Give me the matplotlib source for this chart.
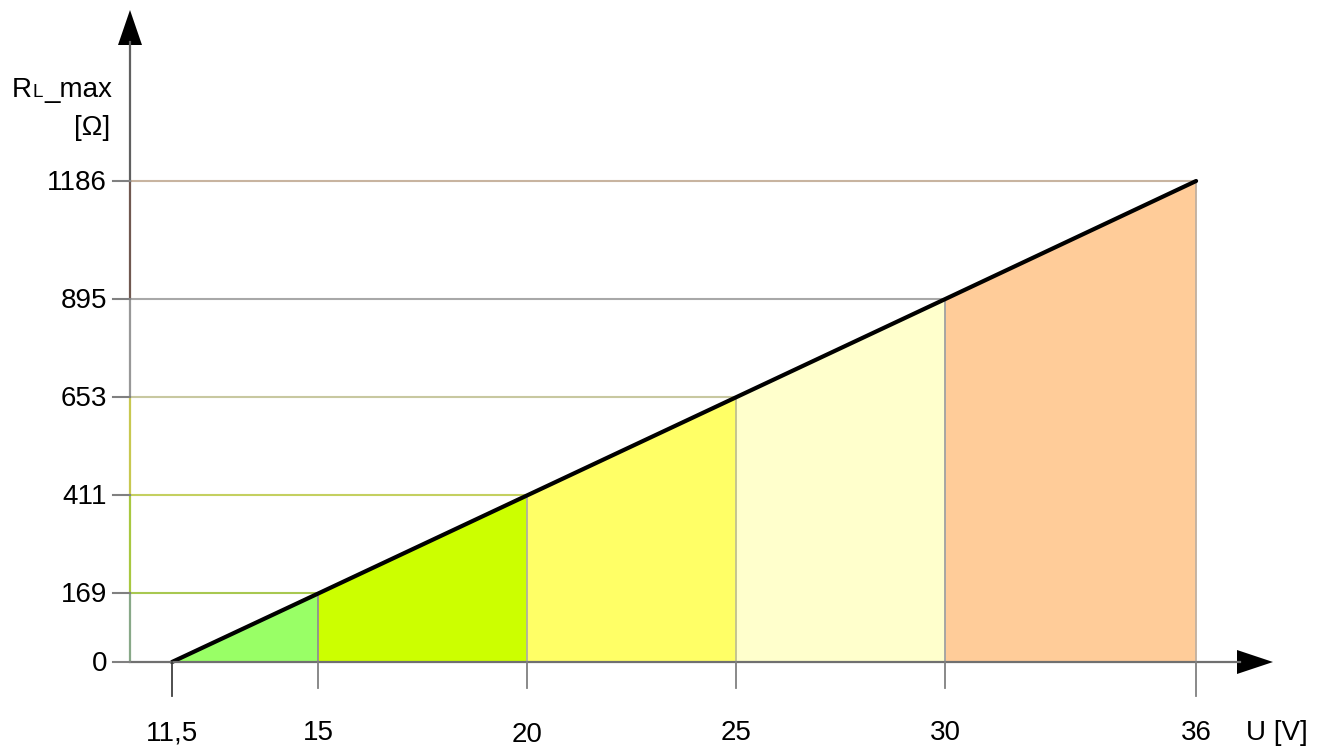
import matplotlib
matplotlib.use("Agg")
import matplotlib.pyplot as plt
import numpy as np

plt.rcParams['font.family'] = ['Liberation Sans', 'DejaVu Sans']

# Daten
u_points = [11.5, 15, 20, 25, 30, 36]
r_points = [0, 169, 411, 653, 895, 1186]
x_labels = ["11,5", "15", "20", "25", "30", "36"]
y_labels = ["0", "169", "411", "653", "895", "1186"]
fill_colors = ["#99ff66", "#ccff00", "#ffff66", "#ffffcc", "#ffcc99"]
hline_colors = ["#a8c850", "#c4d060", "#c8c8a0", "#a8a8a8", "#c8b4a0"]
vline_colors = ["#909090", "#b0b0a0", "#c0c090", "#a0a0a0", "#c0b0a0"]
axis_colors = ["#88a888", "#a8c840", "#c8c850", "#989898", "#705850"]

W, H = 1325, 749
FS = 20
fig = plt.figure(figsize=(W / 100, H / 100), dpi=100)

# Pixel-Koordinaten für Achsen, Pfeile und Texte
deco = fig.add_axes([0, 0, 1, 1])
deco.set_xlim(0, W)
deco.set_ylim(H, 0)
deco.axis('off')

# Datenachse (linear): U=11,5 -> x=172 px, 41.8 px/V; R=0 -> y=662 px, R=1186 -> y=181 px
x0, kx = 172, 41.8
y0, y1 = 662, 181
ky = (y0 - y1) / (r_points[-1] - r_points[0])
ax = fig.add_axes([0, 0, 1, 1], zorder=0)
deco.set_zorder(1)
deco.patch.set_alpha(0)
ax.set_xlim(u_points[0] - x0 / kx, u_points[0] + (W - x0) / kx)
ax.set_ylim(-(H - y0) / ky, y0 / ky)
ax.axis('off')

u = np.array(u_points)
r = np.array(r_points)

# farbige Flächen unter der Geraden
for i in range(len(u) - 1):
    ax.fill([u[i], u[i + 1], u[i + 1], u[i]], [0, 0, r[i + 1], r[i]],
            color=fill_colors[i], lw=0, zorder=1)

# Hilfslinien
u_axis = u_points[0] - (x0 - 130) / kx
for i in range(1, len(u)):
    ax.plot([u_axis, u[i]], [r[i], r[i]], color=hline_colors[i - 1], lw=1.5, zorder=2)
    ax.plot([u[i], u[i]], [0, r[i]], color=vline_colors[i - 1], lw=1.3, zorder=2)

# farbige y-Achse
for i in range(len(r) - 1):
    ax.plot([u_axis, u_axis], [r[i], r[i + 1]], color=axis_colors[i], lw=1.6,
            zorder=3, solid_capstyle='butt')

# Kennlinie
ax.plot(u, r, color='black', lw=3, zorder=4, solid_capstyle='round')

# Achsen und Pfeile (Pixel)
deco.plot([130, 130], [181, 42], color='#606060', lw=1.6)
deco.plot([130, 1240], [662, 662], color='#707070', lw=1.6)
deco.fill([118, 142, 130], [45, 45, 10], color='black', lw=0)
deco.fill([1237, 1237, 1273], [650, 674, 662], color='black', lw=0)

# Ticks und Beschriftungen
for i in range(len(r)):
    yp = y0 - r[i] * ky
    deco.plot([113, 130], [yp, yp], color='#808080', lw=1.5)
    deco.text(107, yp + 2, y_labels[i], ha='right', va='center', fontsize=FS)

x_tick_bottom = [696, 688, 688, 688, 688, 696]
for i in range(len(u)):
    xp = x0 + (u[i] - u[0]) * kx
    deco.plot([xp, xp], [662, x_tick_bottom[i]], color='#404040' if i == 0 else '#808080', lw=1.3)
    dy = 2 if x_labels[i] == "20" else 0
    deco.text(xp, 733 + dy, x_labels[i], ha='center', va='center', fontsize=FS)

deco.text(1277, 733, "U [V]", ha='center', va='center', fontsize=FS)
deco.text(12, 97, "R", ha='left', va='baseline', fontsize=FS)
deco.text(33, 97, "L", ha='left', va='baseline', fontsize=FS * 0.68)
deco.text(112, 97, "_max", ha='right', va='baseline', fontsize=FS)
deco.text(110, 128, "[Ω]", ha='right', va='center', fontsize=FS)

fig.savefig("out.png", dpi=100)
